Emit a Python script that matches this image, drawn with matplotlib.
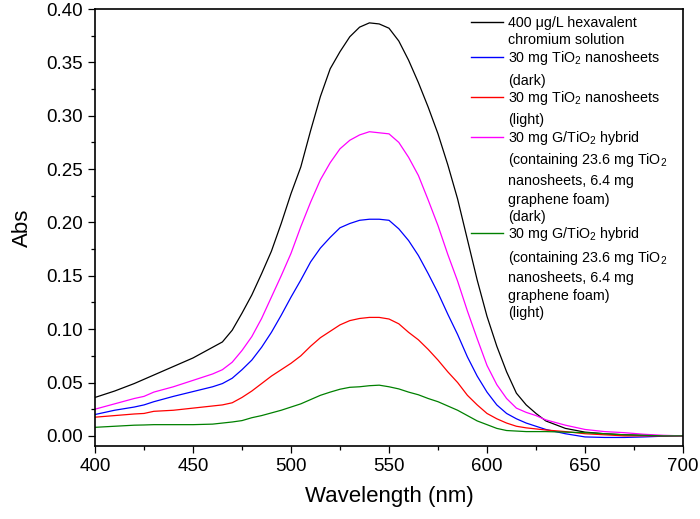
import matplotlib
matplotlib.use("Agg")
import matplotlib.pyplot as plt
from matplotlib.lines import Line2D
from matplotlib.ticker import MultipleLocator

plt.rcParams['font.family'] = ['Liberation Sans', 'DejaVu Sans']
plt.rcParams['mathtext.fontset'] = 'custom'
plt.rcParams['mathtext.rm'] = 'Liberation Sans'
plt.rcParams['mathtext.it'] = 'Liberation Sans:italic'

wavelength = [400, 410, 420, 425, 430, 440, 450, 460, 465, 470, 475, 480, 485, 490, 495,
              500, 505, 510, 515, 520, 525, 530, 535, 540, 545, 550, 555, 560, 565, 570,
              575, 580, 585, 590, 595, 600, 605, 610, 615, 620, 625, 630, 640, 650, 660,
              670, 680, 690, 700]

abs_cr = [0.036, 0.042, 0.049, 0.053, 0.057, 0.065, 0.073, 0.083, 0.088, 0.099, 0.115, 0.132, 0.152, 0.173, 0.199,
          0.227, 0.252, 0.286, 0.318, 0.344, 0.360, 0.374, 0.383, 0.387, 0.386, 0.382, 0.370, 0.352, 0.331, 0.308,
          0.283, 0.254, 0.222, 0.184, 0.146, 0.112, 0.084, 0.060, 0.040, 0.029, 0.021, 0.014, 0.007, 0.0035, 0.002,
          0.001, 0.0005, 0.0, 0.0]

abs_tio2_dark = [0.020, 0.024, 0.027, 0.029, 0.032, 0.037, 0.0415, 0.046, 0.049, 0.054, 0.062, 0.071, 0.083, 0.097, 0.113,
                 0.130, 0.146, 0.163, 0.176, 0.186, 0.195, 0.199, 0.202, 0.203, 0.203, 0.202, 0.194, 0.183, 0.169, 0.152,
                 0.134, 0.114, 0.095, 0.074, 0.056, 0.041, 0.029, 0.021, 0.016, 0.012, 0.009, 0.006, 0.002, -0.001, -0.0015,
                 -0.0015, -0.001, -0.0003, 0.0]

abs_tio2_light = [0.0175, 0.019, 0.0205, 0.021, 0.023, 0.024, 0.026, 0.028, 0.029, 0.031, 0.036, 0.042, 0.049, 0.056, 0.062,
                  0.068, 0.075, 0.084, 0.092, 0.098, 0.104, 0.108, 0.110, 0.111, 0.111, 0.1095, 0.105, 0.097, 0.090, 0.081,
                  0.071, 0.060, 0.050, 0.038, 0.029, 0.021, 0.016, 0.012, 0.009, 0.0075, 0.0065, 0.0055, 0.004, 0.002, 0.001,
                  0.0, 0.0, 0.0, 0.0]

abs_g_tio2_dark = [0.025, 0.030, 0.035, 0.037, 0.041, 0.046, 0.052, 0.058, 0.062, 0.069, 0.080, 0.093, 0.110, 0.130, 0.150,
                   0.171, 0.196, 0.219, 0.240, 0.256, 0.269, 0.277, 0.282, 0.285, 0.284, 0.283, 0.275, 0.261, 0.244, 0.221,
                   0.197, 0.170, 0.145, 0.117, 0.091, 0.066, 0.048, 0.035, 0.026, 0.022, 0.019, 0.015, 0.010, 0.006, 0.004,
                   0.003, 0.0015, 0.0005, 0.0]

abs_g_tio2_light = [0.008, 0.009, 0.010, 0.0102, 0.0105, 0.0105, 0.0105, 0.011, 0.012, 0.013, 0.0143, 0.017, 0.019, 0.0215, 0.024,
                    0.027, 0.030, 0.034, 0.038, 0.041, 0.0437, 0.0455, 0.046, 0.047, 0.0475, 0.046, 0.044, 0.041, 0.0385, 0.035,
                    0.032, 0.028, 0.024, 0.019, 0.014, 0.0105, 0.007, 0.005, 0.0045, 0.004, 0.004, 0.004, 0.0035, 0.003, 0.002,
                    0.001, 0.0005, 0.0, 0.0]

series = [abs_cr, abs_tio2_dark, abs_tio2_light, abs_g_tio2_dark, abs_g_tio2_light]
colors = ['#000000', '#0000ff', '#ff0000', '#ff00ff', '#008000']
labels = [
    ["400 μg/L hexavalent", "chromium solution"],
    ["30 mg TiO$_2$ nanosheets", "(dark)"],
    ["30 mg TiO$_2$ nanosheets", "(light)"],
    ["30 mg G/TiO$_2$ hybrid", "(containing 23.6 mg TiO$_2$", "nanosheets, 6.4 mg", "graphene foam)", "(dark)"],
    ["30 mg G/TiO$_2$ hybrid", "(containing 23.6 mg TiO$_2$", "nanosheets, 6.4 mg", "graphene foam)", "(light)"],
]

W, H = 700, 519
fig = plt.figure(figsize=(W / 100, H / 100), dpi=100)
L, R, T, B = 95, 683, 9, 446
ax = fig.add_axes([L / W, 1 - B / H, (R - L) / W, (B - T) / H])

for y, c in zip(series, colors):
    ax.plot(wavelength, y, color=c, lw=0.9)

ax.set_xlim(400, 700)
ax.set_ylim(-0.0095, 0.40)
ax.xaxis.set_major_locator(MultipleLocator(50))
ax.xaxis.set_minor_locator(MultipleLocator(25))
ax.yaxis.set_major_locator(MultipleLocator(0.05))
ax.yaxis.set_minor_locator(MultipleLocator(0.025))
ax.yaxis.set_major_formatter(matplotlib.ticker.FormatStrFormatter('%.2f'))
ax.tick_params(which='both', direction='out', top=False, right=False, width=0.9, labelsize=13.5)
ax.tick_params(which='major', length=5)
ax.tick_params(which='minor', length=3)
for s in ax.spines.values():
    s.set_linewidth(1.2)
ax.set_xlabel('Wavelength (nm)', fontsize=16, labelpad=8)
ax.set_ylabel('Abs', fontsize=16, labelpad=10)

# legend drawn manually (handle aligned with first line of each label)
line_y = [[22.3, 39.3], [57.3, 80], [97, 119], [136.7, 159.3, 180, 199.3, 216],
          [233.3, 256.7, 277.3, 295, 312.3]]
for c, lines, ys in zip(colors, labels, line_y):
    fig.add_artist(Line2D([471 / W, 503 / W], [1 - ys[0] / H] * 2, color=c, lw=1.0,
                          transform=fig.transFigure))
    for txt, yy in zip(lines, ys):
        fig.text(508 / W, 1 - (yy + 5) / H, txt, fontsize=10.3, va='baseline', ha='left')

fig.savefig('out.png', dpi=100)
